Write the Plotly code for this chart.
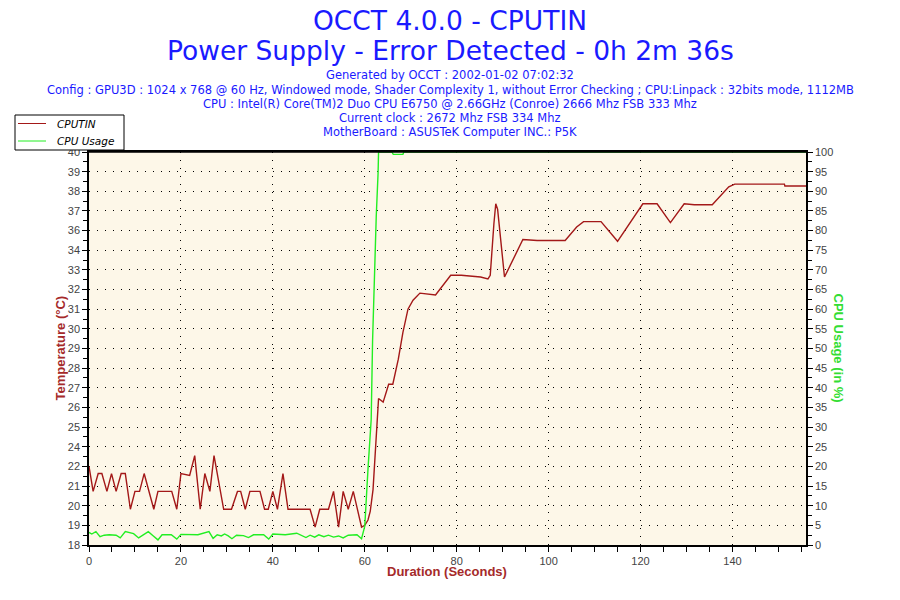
import plotly.graph_objects as go

# CPUTIN temperature (°C)
temp_t = [0, 0.9, 2, 2.8, 3.9, 4.9, 5.9, 7, 7.9, 9, 10, 11, 12, 14.1, 15, 18, 19.1,
          20, 21.9, 23, 24.2, 25.2, 26.3, 27.2, 29.3, 31, 32.3, 33, 34, 35, 37.2,
          38.2, 39, 40, 41, 42.2, 43.3, 48.1, 49.2, 50.2, 52.1, 53.2, 54.3, 55.3,
          56.4, 57.5, 59.3, 60, 60.7, 61.2, 61.8, 62.3, 63, 64, 65.2, 66.1, 67.3,
          68.3, 69.4, 70.5, 72, 75.4, 78.7, 81, 85.2, 86.8, 87.3, 88.1, 88.5, 88.9,
          89.5, 90.4, 94.4, 97.5, 103.6, 106.1, 107.6, 111.4, 115, 120.5, 123.6,
          126.5, 129.5, 131.7, 135.6, 139.2, 140.5, 151.3, 151.4, 156]
temp_v = [22.4, 21, 22, 22, 21, 22, 21, 22, 22, 20, 21, 21, 22, 20, 21, 21, 20,
          22, 21.9, 23, 20, 22, 21, 23, 20, 20, 21, 21, 20, 21, 21,
          20, 20, 21, 20, 22, 20, 20, 19, 20, 20, 21, 19, 21,
          20, 21, 19, 19.1, 19.4, 19.9, 21.1, 23.2, 26.2, 26.0, 27.0, 27.0, 28.4,
          29.9, 31.2, 31.7, 32.1, 32.0, 33.1, 33.1, 33.0, 32.9, 33.1, 36.0, 37.1, 36.8,
          35.1, 33.0, 35.1, 35.05, 35.05, 35.8, 36.1, 36.1, 35.0, 37.1, 37.1,
          36.05, 37.1, 37.05, 37.05, 38.05, 38.2, 38.2, 38.1, 38.1]

# CPU usage (%)
cpu_t = [0, 0.6, 1.5, 2.4, 3.3, 4.4, 5.9, 6.8, 7.9, 8.8, 9.7, 10.8, 12.1, 12.9,
         14, 15, 15.9, 17.9, 19.1, 20, 23.7, 25.2, 26.1, 27, 27.9, 28.8, 29.5,
         30.3, 31.1, 32.1, 33.6, 34.7, 35.8, 38, 39.1, 40, 42.7, 45.2, 46.2, 47.2,
         48.1, 49.1, 50, 51.1, 52.1, 53.2, 54.3, 55.3, 56.4, 58.3, 59.3, 60, 60.7,
         61.4, 61.7, 62.2, 62.5, 62.9, 63, 65.9, 66.2, 68.3, 68.5, 156]
cpu_v = [3.2, 2.8, 3.4, 2.1, 2.5, 2.6, 2.5, 1.8, 3.4, 3.2, 2.9, 1.8, 2.8, 3.4,
         2.3, 1.3, 2.6, 2.6, 1.5, 2.7, 2.6, 3.0, 3.4, 1.7, 2.6, 2.3, 2.8,
         2.3, 1.6, 2.5, 2.4, 1.9, 2.6, 2.6, 1.5, 2.8, 2.6, 3.0, 2.5, 1.9,
         2.5, 2.0, 2.6, 2.1, 2.5, 2.0, 2.3, 1.8, 2.5, 2.6, 1.6, 4.8, 19.3,
         32, 52, 73.5, 83.7, 94.8, 100, 100, 99.4, 99.4, 100, 100]

series_names = ["CPUTIN", "CPU Usage"]
series_colors = ["#A31818", "#22EE22"]

temp_ticks = [round(18 + 1.1 * i, 2) for i in range(21)]
temp_labels = [str(round(v)) for v in temp_ticks]
temp_minor = [round(18 + 1.1 * i + 0.55, 3) for i in range(20)]
x_ticks = [0, 20, 40, 60, 80, 100, 120, 140]

# plot box in pixels
L, R, T, B = 89, 806, 152, 545


def px(x):
    return (x - L) / (R - L)


def py(y):
    return (B - y) / (B - T)


fig = go.Figure()
fig.add_trace(go.Scatter(x=temp_t, y=temp_v, name=series_names[0], mode="lines",
                         line=dict(color=series_colors[0], width=1.4), hoverinfo="skip"))
fig.add_trace(go.Scatter(x=cpu_t, y=cpu_v, name=series_names[1], mode="lines", yaxis="y2",
                         line=dict(color=series_colors[1], width=1.4), hoverinfo="skip"))

tickfont = dict(family="Liberation Sans, Arial", size=11, color="#444444")
ghost = dict(ticks="inside", ticklen=3, tickcolor="black", showticklabels=False,
             showgrid=False, zeroline=False, showline=False, color="black")
fig.update_layout(
    template="none",
    width=900, height=600,
    font=dict(family="Liberation Sans, Arial", color="#444444"),
    margin=dict(l=L, r=900 - R, t=T, b=600 - B, autoexpand=False),
    paper_bgcolor="white", plot_bgcolor="#FDF7E8",
    showlegend=False, hovermode=False,
    xaxis=dict(range=[0, 156], tickvals=x_ticks, color="black",
               ticks="outside", ticklen=5, tickcolor="black",
               minor=dict(dtick=5, tick0=0, ticks="outside", ticklen=5, tickcolor="black"),
               showline=True, linecolor="black", linewidth=1.5, mirror=True,
               showgrid=True, gridcolor="black", griddash="1px,7px", gridwidth=1,
               zeroline=False, tickfont=tickfont),
    xaxis2=dict(ghost, range=[0, 156], overlaying="x", anchor="y", dtick=5, tick0=0),
    yaxis=dict(range=[18, 40], tickvals=temp_ticks, ticktext=temp_labels, color="black",
               ticks="outside", ticklen=5, tickcolor="black",
               minor=dict(tickvals=temp_minor, ticks="outside", ticklen=4, tickcolor="black"),
               showline=True, linecolor="black", linewidth=1.5,
               showgrid=True, gridcolor="black", griddash="1px,7px", gridwidth=1,
               zeroline=False, tickfont=tickfont),
    yaxis2=dict(range=[0, 100], overlaying="y", side="right", dtick=5, color="black",
                ticks="outside", ticklen=5, tickcolor="black",
                minor=dict(dtick=2.5, ticks="outside", ticklen=4, tickcolor="black"),
                showline=True, linecolor="black", linewidth=1.5,
                showgrid=False, zeroline=False, tickfont=tickfont),
    yaxis3=dict(ghost, range=[18, 40], overlaying="y", side="left", anchor="x",
                tickvals=sorted(temp_ticks + temp_minor)),
    yaxis4=dict(ghost, range=[0, 100], overlaying="y", side="right", anchor="x", dtick=2.5),
)

# top frame drawn above the traces, so the 100 % line sits under it
fig.add_shape(type="line", xref="paper", yref="paper", x0=0, x1=1, y0=1, y1=1,
              line=dict(color="black", width=1.5), layer="above")

# legend box in the top-left corner
fig.add_shape(type="rect", xref="paper", yref="paper", x0=px(15), x1=px(124),
              y0=py(150), y1=py(115), line=dict(color="black", width=1),
              fillcolor="white", layer="above")
for i, (name, color) in enumerate(zip(series_names, series_colors)):
    yy = py(123.5 + 17.5 * i)
    fig.add_shape(type="line", xref="paper", yref="paper", x0=px(18), x1=px(46),
                  y0=yy, y1=yy, line=dict(color=color, width=1), layer="above")
    fig.add_annotation(text=f"<i>{name}</i>", x=px(55), y=yy, xref="paper", yref="paper",
                       showarrow=False, xanchor="left", yanchor="middle",
                       font=dict(family="DejaVu Sans", size=10.5, color="black"))

blue = "#1A1AFF"
head = [
    ("OCCT 4.0.0 - CPUTIN", 20, 26.5),
    ("Power Supply - Error Detected - 0h 2m 36s", 50, 26.5),
    ("Generated by OCCT : 2002-01-02 07:02:32", 75, 11.5),
    ("Config : GPU3D : 1024 x 768 @ 60 Hz, Windowed mode, Shader Complexity 1, "
     "without Error Checking ; CPU:Linpack : 32bits mode, 1112MB", 90, 11.5),
    ("CPU : Intel(R) Core(TM)2 Duo CPU E6750 @ 2.66GHz (Conroe) 2666 Mhz FSB 333 Mhz", 104, 11.5),
    ("Current clock : 2672 Mhz FSB 334 Mhz", 118, 11.5),
    ("MotherBoard : ASUSTeK Computer INC.: P5K", 132, 11.5),
]
for text, y, size in head:
    fig.add_annotation(text=text, x=px(450), y=py(y), xref="paper", yref="paper",
                       showarrow=False, xanchor="center", yanchor="middle",
                       font=dict(family="DejaVu Sans", size=size, color=blue))

fig.add_annotation(text="<b>Temperature (°C)</b>", x=px(50), y=py(348), xref="paper", yref="paper",
                   showarrow=False, textangle=-90,
                   font=dict(family="Liberation Sans, Arial", size=13, color="#A52A2A"))
fig.add_annotation(text="<b>CPU Usage (in %)</b>", x=px(848), y=py(348), xref="paper", yref="paper",
                   showarrow=False, textangle=90,
                   font=dict(family="Liberation Sans, Arial", size=13, color="#33DD33"))
fig.add_annotation(text="<b>Duration (Seconds)</b>", x=px(447), y=py(581), xref="paper", yref="paper",
                   showarrow=False,
                   font=dict(family="Liberation Sans, Arial", size=13, color="#A52A2A"))

# page body has an 8px default margin; drop it so the figure fills the window
fig.write_html("out.html", config={"displayModeBar": False},
               post_script="document.body.style.margin='0';")
